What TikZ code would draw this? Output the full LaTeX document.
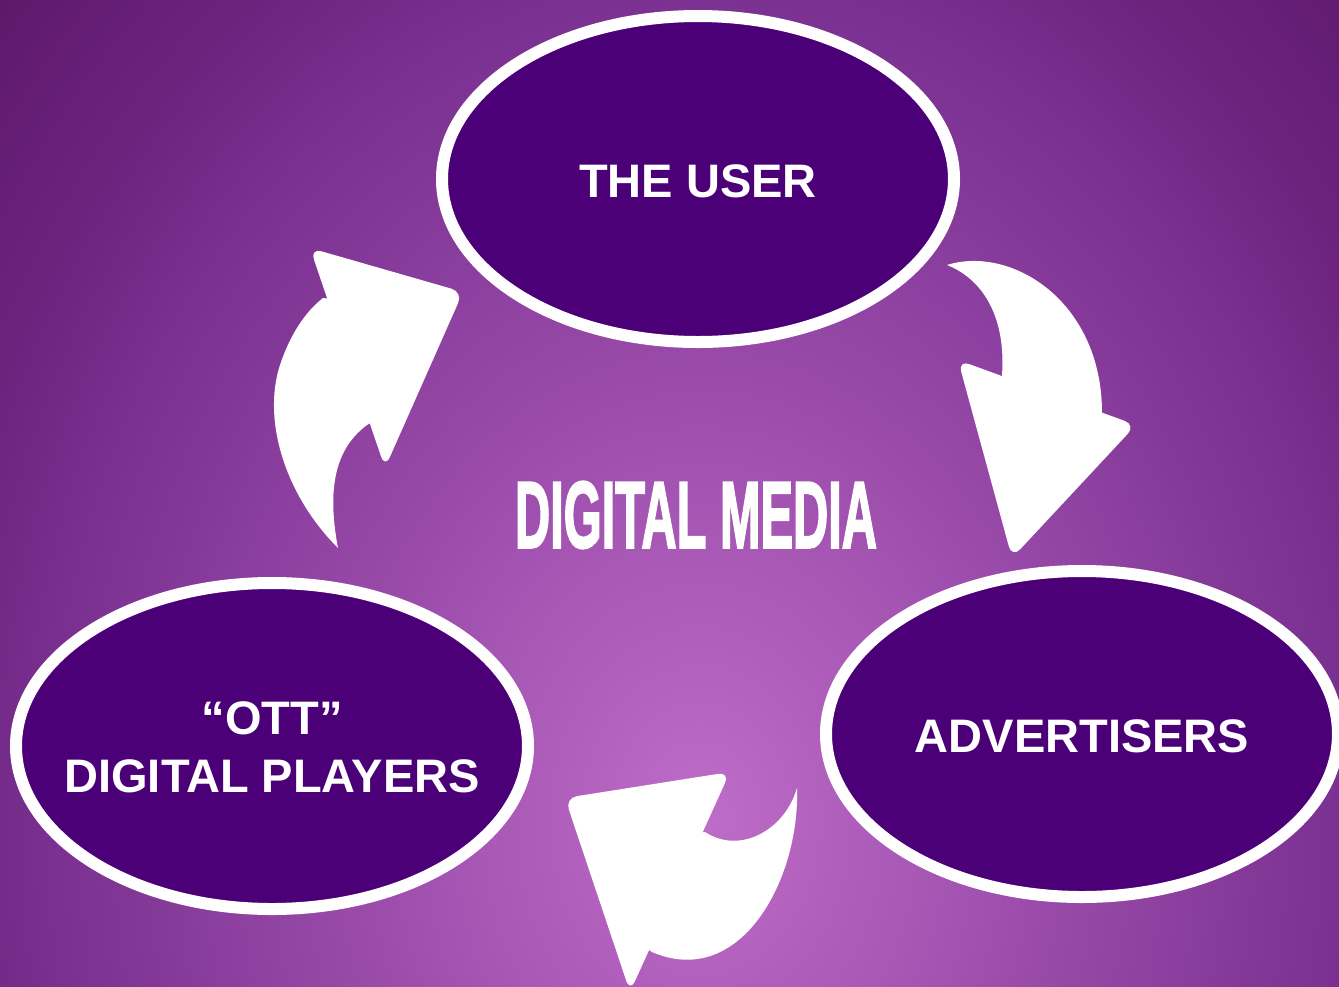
\documentclass[tikz,border=0pt]{standalone}
\usepackage{fontspec}
\usepackage{graphicx}
\setmainfont{Liberation Sans}
\newfontfamily\titlefont{Liberation Sans}[FakeBold=2.5]
\usetikzlibrary{shapes.geometric}
\definecolor{bgA}{HTML}{BE6EC8}
\definecolor{bgB}{HTML}{A050AE}
\definecolor{bgC}{HTML}{793090}
\definecolor{bgD}{HTML}{6E2480}
\definecolor{bgE}{HTML}{5E196C}
\definecolor{ellfill}{HTML}{4B0078}
\pgfdeclareradialshading{bgshade}{\pgfpoint{0bp}{0bp}}{%
  color(0bp)=(bgA); color(7.5bp)=(bgB); color(16.6bp)=(bgC);
  color(19.3bp)=(bgD); color(24bp)=(bgE); color(50bp)=(bgE)}
\tikzset{
  bubble/.style={ellipse, draw=white, line width=12pt, fill=ellfill,
    minimum width=512pt, minimum height=326pt, inner sep=0pt},
  bubbletext/.style={text=white, font=\fontsize{47}{58}\selectfont\bfseries,
    align=center, inner sep=0pt},
  arrowfill/.style={fill=white, draw=none},
}
\begin{document}
\begin{tikzpicture}[x=1pt, y=-1pt]
\useasboundingbox (0,0) rectangle (1339,986);
\begin{scope}
\clip (0,0) rectangle (1339,986);
\fill[bgE] (0,0) rectangle (1339,986);
\shade[shading=bgshade] (700,820) ellipse [x radius=980pt, y radius=1260pt];
\end{scope}

% ellipses
\node[bubble] (user) at (698,179) {};
\node[bubble] (adv) at (1082,734) {};
\node[bubble] (ott) at (272,746) {};
\node[bubbletext] (usert) at ([yshift=-2pt]user.center) {THE USER};
\node[bubbletext] (advt) at ([yshift=-2pt]adv.center) {ADVERTISERS};
\node[bubbletext] (ottt) at ([yshift=-1pt]ott.center) {“OTT”\\DIGITAL PLAYERS};

% center title
\node[text=white, inner sep=0pt] (title) at (696,515)
  {\resizebox{362pt}{66pt}{\titlefont\bfseries DIGITAL MEDIA}};

% arrow 1: left, toward THE USER
\fill[arrowfill, rounded corners=12pt] (310,248) -- (463,292) -- (385,468) -- cycle;
\fill[arrowfill] (338,548) .. controls (285,495) and (262,420) .. (280,365)
  .. controls (290,335) and (305,312) .. (323,298)
  -- (340,300) -- (375,420) -- (367,425)
  .. controls (340,445) and (325,480) .. (338,548) -- cycle;

% arrow 2: right, toward ADVERTISERS
\fill[arrowfill, rounded corners=12pt] (958,360) -- (1136,425) -- (1012,558) -- cycle;
\fill[arrowfill] (947,265) .. controls (1010,245) and (1102,300) .. (1102,413)
  -- (1095,425) -- (1005,390) -- (1002,375)
  .. controls (1006,320) and (985,280) .. (947,265) -- cycle;

% arrow 3: bottom, toward OTT
\fill[arrowfill, rounded corners=12pt] (565,798) -- (730,772) -- (630,992) -- cycle;
\fill[arrowfill] (797,788) .. controls (800,880) and (740,990) .. (652,952)
  -- (635,940) -- (685,835) -- (705,832)
  .. controls (740,855) and (785,830) .. (797,788) -- cycle;
\end{tikzpicture}
\end{document}
